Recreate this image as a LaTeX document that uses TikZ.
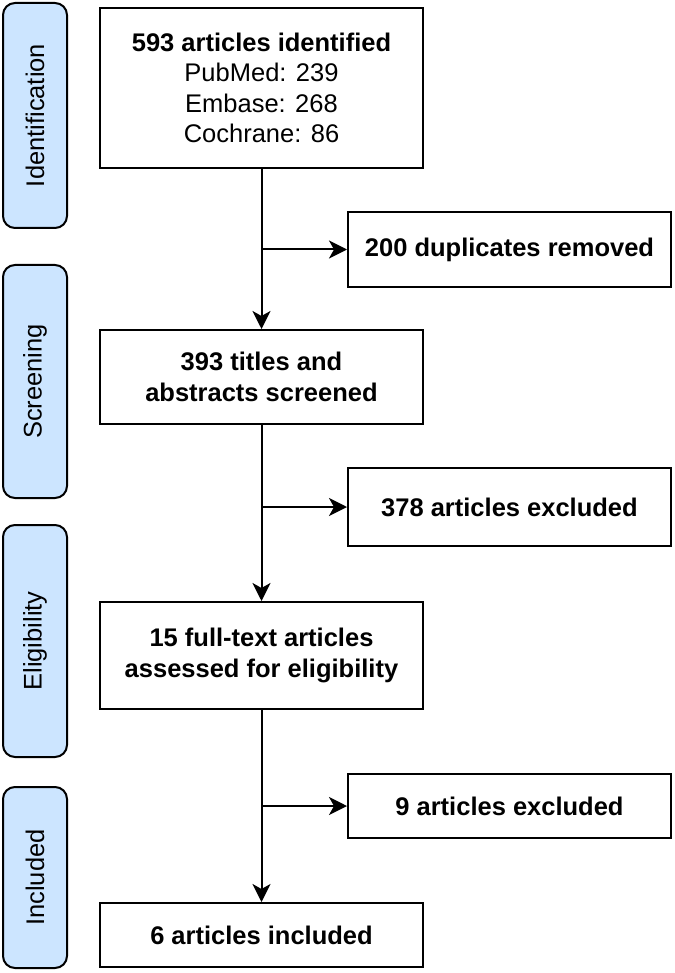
\documentclass[tikz,border=0pt]{standalone}
\usepackage{fontspec}
\setmainfont{Liberation Sans}
\usepackage{tikz}
\usetikzlibrary{arrows.meta}
\definecolor{phasefill}{HTML}{CCE5FF}

\begin{document}
\begin{tikzpicture}[x=1pt,y=1pt,
  box/.style={draw, line width=2pt, inner sep=0pt, align=center,
    minimum width=323pt, font=\fontsize{25.5}{30.5}\selectfont\bfseries},
  phase/.style={draw, line width=2pt, fill=phasefill, rounded corners=12pt,
    rotate=90, inner sep=0pt, minimum height=64pt,
    font=\fontsize{25.5}{30}\selectfont},
  arr/.style={line width=2pt, -{Stealth[length=18pt,width=18pt,inset=5pt]}}]
\useasboundingbox (0,0) rectangle (674,-973);

% phases on the left
\node[phase, minimum width=225pt] (ident) at (35,-115.5) {Identification};
\node[phase, minimum width=233pt] (screen) at (35,-381.5) {Screening};
\node[phase, minimum width=232pt] (elig) at (35,-641) {Eligibility};
\node[phase, minimum width=181pt] (incl) at (35,-877.5) {Included};

% main column
\node[box, minimum height=160pt] (found) at (261.5,-88)
  {593 articles identified\\
   \mdseries PubMed: 239\\
   \mdseries Embase: 268\\
   \mdseries Cochrane: 86};
\node[box, minimum height=94pt] (titles) at (261.5,-377)
  {393 titles and\\abstracts screened};
\node[box, minimum height=107pt] (fulltext) at (261.5,-655.5)
  {15 full-text articles\\assessed for eligibility};
\node[box, minimum height=64pt] (kept) at (261.5,-935) {6 articles included};

% exclusions on the right
\node[box, minimum height=75pt] (dupl) at (509.5,-249.5) {200 duplicates removed};
\node[box, minimum height=78pt] (excl1) at (509.5,-507) {378 articles excluded};
\node[box, minimum height=64pt] (excl2) at (509.5,-806) {9 articles excluded};

\draw[arr] (found) -- (titles);
\draw[arr] (titles) -- (fulltext);
\draw[arr] (fulltext) -- (kept);
\draw[arr] (found.south |- dupl.west) -- (dupl.west);
\draw[arr] (titles.south |- excl1.west) -- (excl1.west);
\draw[arr] (fulltext.south |- excl2.west) -- (excl2.west);

\end{tikzpicture}
\end{document}
